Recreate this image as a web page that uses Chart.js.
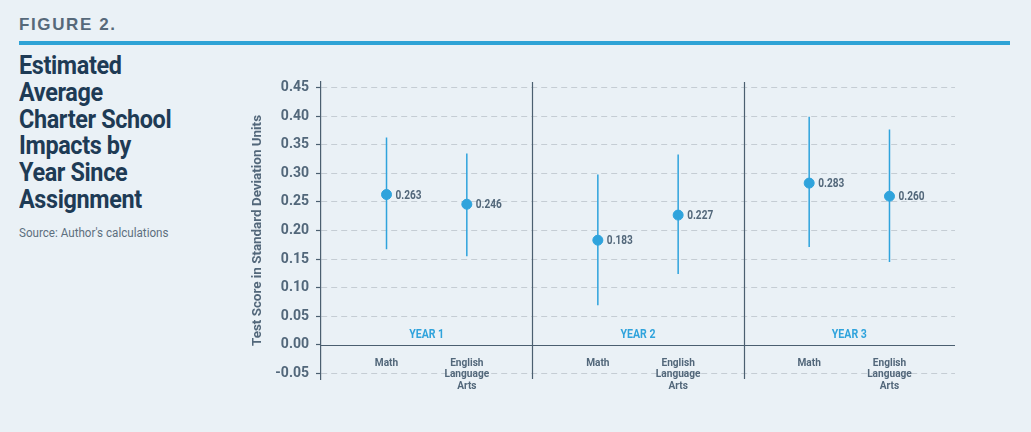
<!DOCTYPE html>
<html>
<head>
<meta charset="utf-8">
<script src="https://cdn.jsdelivr.net/npm/chart.js@4"></script>
<style>
  html, body { margin:0; padding:0; background:#eaf1f6; width:1031px; height:432px; overflow:hidden; }
  .cond { font-family: 'Roboto', sans-serif; transform-origin: left top; white-space: nowrap; }
  #fig { position:absolute; left:19px; top:15px; font-family:'Liberation Sans','Arial',sans-serif; font-weight:bold; font-size:17px; letter-spacing:1.6px; color:#56697a; }
  #rule { position:absolute; left:19px; top:41px; width:991px; height:4px; background:#2fa3d6; }
  #title { position:absolute; left:19px; top:52px; font-weight:bold; font-size:26px; line-height:26.8px; color:#1e3b55; letter-spacing:-0.4px; transform: scaleX(0.9); }
  #source { position:absolute; left:19px; top:225px; font-size:12.5px; color:#5d6f7e; transform: scaleX(0.93); }
  #wrap { position:absolute; left:240px; top:0; width:791px; height:432px; }
</style>
</head>
<body>
<div id="fig">FIGURE 2.</div>
<div id="rule"></div>
<div id="title" class="cond">Estimated<br>Average<br>Charter School<br>Impacts by<br>Year Since<br>Assignment</div>
<div id="source" class="cond">Source: Author's calculations</div>
<div id="wrap"><canvas id="c"></canvas></div>
<script>
// ---- data ----
const years = ['YEAR 1', 'YEAR 2', 'YEAR 3'];
const subjects = [['Math'], ['English', 'Language', 'Arts']];
const mathEstimate = [0.263, 0.183, 0.283];
const mathLower    = [0.167, 0.069, 0.171];
const mathUpper    = [0.363, 0.298, 0.399];
const elaEstimate  = [0.246, 0.227, 0.260];
const elaLower     = [0.155, 0.124, 0.145];
const elaUpper     = [0.335, 0.333, 0.377];
const yTickValues  = [-0.05, 0.00, 0.05, 0.10, 0.15, 0.20, 0.25, 0.30, 0.35, 0.40, 0.45];
const yAxisTitle   = 'Test Score in Standard Deviation Units';

// ---- layout helpers ----
const subjOffset = [0.31, 0.69];
const blue = '#2fa3dc';
const slate = '#4b5f70';
const textCol = '#52677a';
const FONT = "'Roboto', sans-serif";

const series = [
  { est: mathEstimate, lo: mathLower, hi: mathUpper },
  { est: elaEstimate,  lo: elaLower,  hi: elaUpper }
];
const points = [];
const bars = [];
years.forEach((y, yi) => {
  series.forEach((s, si) => {
    const x = yi + subjOffset[si];
    points.push({ x: x, y: s.est[yi] });
    bars.push({ x: x, y: s.lo[yi] }, { x: x, y: s.hi[yi] }, { x: x, y: null });
  });
});

function condText(ctx, text, x, y, sx) {
  ctx.save();
  ctx.translate(x, y);
  ctx.scale(sx, 1);
  ctx.fillText(text, 0, 0);
  ctx.restore();
}

const overlay = {
  id: 'overlay',
  afterDatasetsDraw(chart) {
    const { ctx, chartArea: a, scales: { x, y } } = chart;
    ctx.save();
    // zero line
    ctx.strokeStyle = slate; ctx.lineWidth = 1.2;
    ctx.beginPath();
    const y0 = Math.round(y.getPixelForValue(0)) + 0.5;
    ctx.moveTo(a.left, y0); ctx.lineTo(a.right, y0); ctx.stroke();
    // year dividers
    for (let i = 1; i < years.length; i++) {
      const px = Math.round(x.getPixelForValue(i)) + 0.5;
      ctx.beginPath(); ctx.moveTo(px, a.top); ctx.lineTo(px, a.bottom); ctx.stroke();
    }
    // year labels
    ctx.fillStyle = blue; ctx.font = 'bold 12px ' + FONT;
    ctx.textAlign = 'center'; ctx.textBaseline = 'middle';
    years.forEach((yl, yi) => {
      condText(ctx, yl, x.getPixelForValue(yi + 0.5), y.getPixelForValue(0) - 10, 0.88);
    });
    // subject labels
    ctx.fillStyle = textCol; ctx.font = 'bold 11.5px ' + FONT;
    years.forEach((yl, yi) => {
      subjects.forEach((lines, si) => {
        const px = x.getPixelForValue(yi + subjOffset[si]);
        lines.forEach((ln, li) => {
          condText(ctx, ln, px, y.getPixelForValue(0) + 18 + li * 11.5, 0.88);
        });
      });
    });
    // value labels
    ctx.font = 'bold 12px ' + FONT; ctx.textAlign = 'left';
    const meta = chart.getDatasetMeta(1);
    meta.data.forEach((pt, i) => {
      condText(ctx, points[i].y.toFixed(3), pt.x + 9, pt.y + 1, 0.84);
    });
    ctx.restore();
  }
};

new Chart(document.getElementById('c'), {
  type: 'scatter',
  data: {
    datasets: [
      { type: 'line', data: bars, borderColor: blue, borderWidth: 1.5, pointRadius: 0, showLine: true, spanGaps: false, fill: false, order: 2 },
      { data: points, backgroundColor: blue, borderColor: blue, pointRadius: 5, pointHoverRadius: 5, order: 1 }
    ]
  },
  options: {
    responsive: true, maintainAspectRatio: false, animation: false, devicePixelRatio: 1,
    layout: { padding: { top: 82, bottom: 53, right: 76, left: 0 } },
    plugins: { legend: { display: false }, tooltip: { enabled: false } },
    scales: {
      x: { type: 'linear', min: 0, max: years.length, display: false },
      y: {
        type: 'linear', min: -0.06, max: 0.46,
        afterBuildTicks: (s) => { s.ticks = yTickValues.map(v => ({ value: v })); },
        afterFit: (s) => { s.width = 81; },
        border: { display: true, color: slate, width: 1.2, dash: [6, 4] },
        grid: {
          color: (c) => (c.tick && Math.abs(c.tick.value) < 1e-9) ? 'rgba(0,0,0,0)' : '#c5cdd4',
          lineWidth: 1, tickLength: 5, tickColor: slate, tickWidth: 1.2, tickBorderDash: []
        },
        ticks: {
          color: textCol, padding: 7,
          font: { family: FONT, size: 14, weight: 'bold' },
          callback: (v) => v.toFixed(2)
        },
        title: {
          display: true, text: yAxisTitle, color: textCol,
          font: { family: FONT, size: 13.4, weight: 'bold' },
          padding: { top: 10, bottom: 0 }
        }
      }
    }
  },
  plugins: [overlay]
});
</script>
</body>
</html>
